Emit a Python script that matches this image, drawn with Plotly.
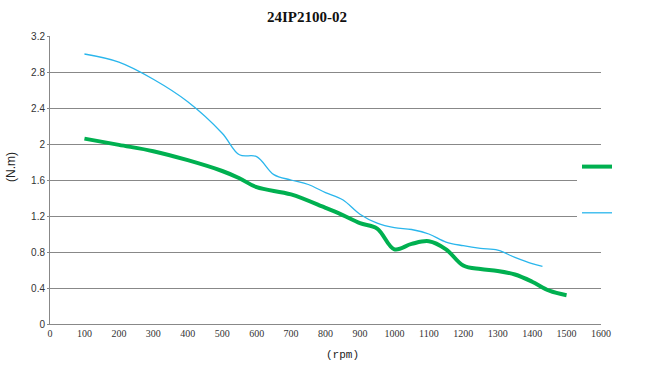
import plotly.graph_objects as go

# Green series (thick)
green_x = [100, 200, 300, 400, 500, 550, 600, 700, 800, 850, 900, 950, 1000, 1050, 1100, 1150, 1200, 1250, 1300, 1350, 1400, 1450, 1500]
green_y = [2.06, 1.99, 1.92, 1.82, 1.70, 1.62, 1.52, 1.44, 1.29, 1.21, 1.12, 1.06, 0.83, 0.89, 0.92, 0.83, 0.65, 0.61, 0.59, 0.55, 0.47, 0.37, 0.32]

# Blue series (thin)
blue_x = [100, 200, 300, 400, 500, 550, 600, 650, 700, 750, 800, 850, 900, 950, 1000, 1050, 1100, 1150, 1200, 1250, 1300, 1350, 1400, 1430]
blue_y = [3.00, 2.91, 2.72, 2.47, 2.12, 1.88, 1.86, 1.66, 1.60, 1.55, 1.46, 1.38, 1.22, 1.12, 1.07, 1.05, 1.00, 0.91, 0.87, 0.84, 0.82, 0.74, 0.67, 0.64]

x_ticks = list(range(0, 1601, 100))
y_ticks = [0, 0.4, 0.8, 1.2, 1.6, 2, 2.4, 2.8, 3.2]
y_labels = ["0", "0.4", "0.8", "1.2", "1.6", "2", "2.4", "2.8", "3.2"]

fig = go.Figure()
fig.add_trace(go.Scatter(x=green_x, y=green_y, mode="lines", name=" ",
                         line=dict(color="#00B050", width=4, shape="spline", smoothing=1.0),
                         legendgroup="g"))
fig.add_trace(go.Scatter(x=blue_x, y=blue_y, mode="lines", name=" ",
                         line=dict(color="#2AB6EC", width=1.3, shape="spline", smoothing=1.0),
                         legendgroup="b"))

PW, PH = 551, 288  # plot area size in px
fig.update_layout(
    width=648, height=378,
    margin=dict(l=50, r=47, t=36, b=54, autoexpand=False),
    paper_bgcolor="white", plot_bgcolor="white",
    title=dict(text="<b>24IP2100-02</b>", x=307/648, xanchor="center", y=1 - 17/378, yanchor="middle",
               font=dict(family="Liberation Serif, DejaVu Serif", size=15, color="#111")),
    xaxis=dict(range=[0, 1600], tickvals=x_ticks, ticktext=[str(v) for v in x_ticks],
               showgrid=False, showline=True, linecolor="#888", linewidth=1,
               ticks="", zeroline=False, automargin=False,
               tickfont=dict(family="Liberation Serif, DejaVu Serif", size=10, color="#333")),
    yaxis=dict(range=[0, 3.2], tickvals=y_ticks, ticktext=y_labels,
               showgrid=True, gridcolor="#888", gridwidth=1,
               showline=True, linecolor="#888", linewidth=1,
               ticks="outside", ticklen=2, tickcolor="#888", zeroline=False, automargin=False,
               tickfont=dict(family="Liberation Sans, DejaVu Sans", size=10, color="#333")),
    annotations=[
        dict(text="(rpm)", xref="paper", yref="paper", x=(342 - 50) / PW, y=(324 - 355) / PH,
             xanchor="center", yanchor="middle", showarrow=False,
             font=dict(family="Liberation Mono, DejaVu Sans Mono", size=11, color="#222")),
        dict(text="(N.m)", xref="paper", yref="paper", x=(11 - 50) / PW, y=(324 - 167) / PH,
             xanchor="center", yanchor="middle", showarrow=False, textangle=-90,
             font=dict(family="Liberation Sans, DejaVu Sans", size=12, color="#222")),
    ],
    showlegend=True,
    legend=dict(x=(577 - 50) / PW, xanchor="left", y=(324 - 151) / PH, yanchor="top",
                bgcolor="white", borderwidth=0,
                traceorder="grouped", tracegroupgap=25,
                itemwidth=30, font=dict(size=14)),
)

fig.write_html("out.html", config={"displayModeBar": False},
               post_script="document.body.style.margin='0px';")
